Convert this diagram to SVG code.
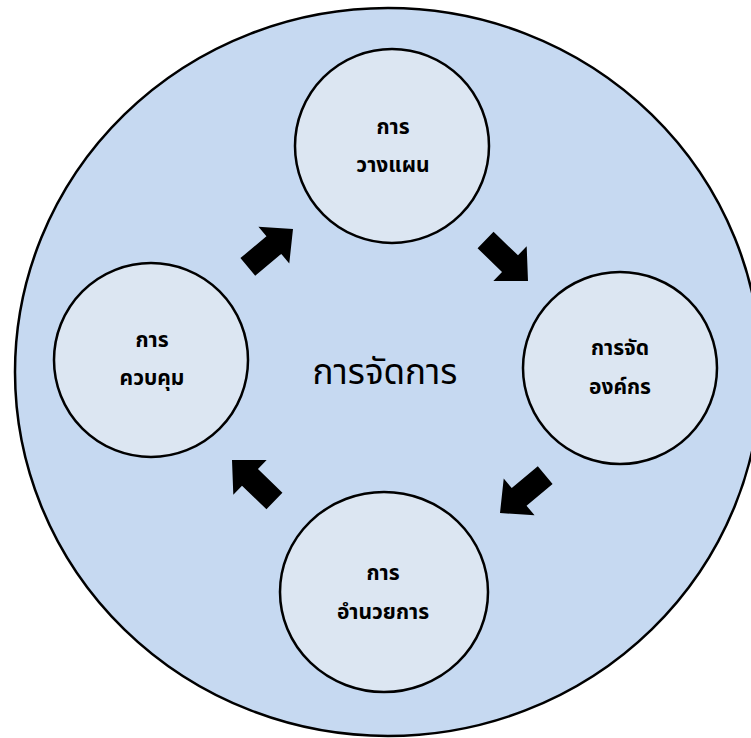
<svg xmlns="http://www.w3.org/2000/svg" width="751" height="738" viewBox="0 0 751 738">
<defs>
<style>
.outer{fill:#C6D9F1;stroke:#000;stroke-width:2.5}
.node{fill:#DCE6F2;stroke:#000;stroke-width:2.5}
.lbl{font-family:Tahoma,"Noto Sans Thai","Noto Sans","DejaVu Sans",sans-serif;font-weight:bold;font-size:21px;fill:#000;text-anchor:middle}
.title{font-family:Tahoma,"Noto Sans Thai","Noto Sans","DejaVu Sans",sans-serif;font-size:35px;fill:#000;text-anchor:middle}
.arr{fill:#000}
</style>
<path id="blk" d="M0,0 L-25,-24 L-25,-11.5 L-59,-11.5 L-59,11.5 L-25,11.5 L-25,24 Z"/>
</defs>
<rect width="751" height="738" fill="#fff"/>
<g id="outer">
<ellipse class="outer" cx="388" cy="372" rx="373" ry="364"/>
<text class="title" x="385" y="384">การจัดการ</text>
</g>
<g id="connectors">
<use href="#blk" class="arr" transform="translate(293,229) rotate(-40)"/>
<use href="#blk" class="arr" transform="translate(528,281) rotate(44)"/>
<use href="#blk" class="arr" transform="translate(500,513) rotate(140)"/>
<use href="#blk" class="arr" transform="translate(232,460) rotate(224)"/>
</g>
<g id="planning">
<ellipse class="node" cx="392" cy="146" rx="97" ry="97"/>
<text class="lbl" x="393" y="134">การ</text>
<text class="lbl" x="393" y="172">วางแผน</text>
</g>
<g id="organizing">
<ellipse class="node" cx="620" cy="368" rx="97" ry="96"/>
<text class="lbl" x="620" y="355">การจัด</text>
<text class="lbl" x="620" y="394">องค์กร</text>
</g>
<g id="directing">
<ellipse class="node" cx="384" cy="592" rx="104" ry="100"/>
<text class="lbl" x="383" y="580">การ</text>
<text class="lbl" x="383" y="619">อำนวยการ</text>
</g>
<g id="controlling">
<ellipse class="node" cx="151" cy="360" rx="97" ry="97"/>
<text class="lbl" x="152" y="347">การ</text>
<text class="lbl" x="152" y="385">ควบคุม</text>
</g>
</svg>
